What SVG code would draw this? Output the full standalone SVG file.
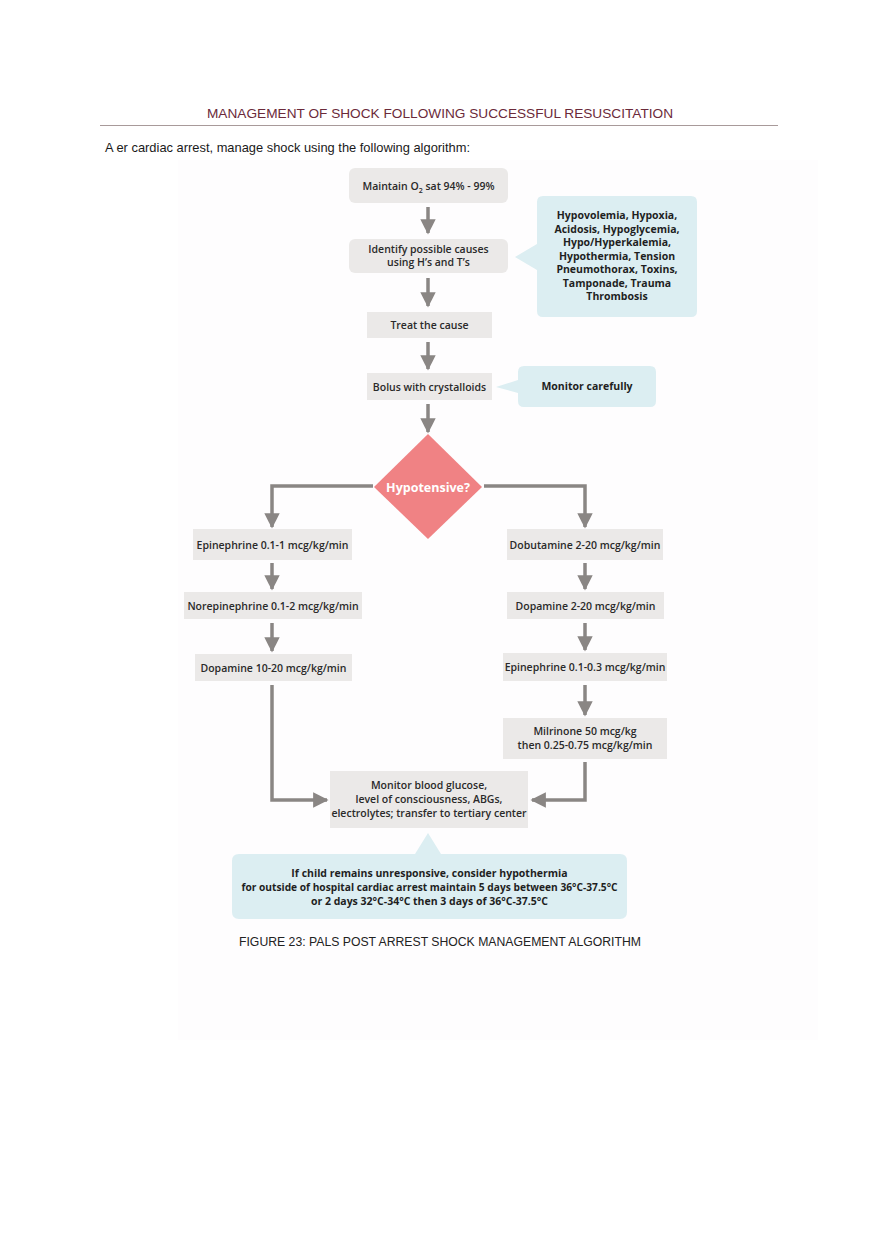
<svg xmlns="http://www.w3.org/2000/svg" width="880" height="1247" viewBox="0 0 880 1247">
<defs>
<style>
.box{fill:#ebe9e8}
.call{fill:#dcEef2}
.t{font-family:"Open Sans","DejaVu Sans",sans-serif;font-size:10.5px;font-weight:600;fill:#2a2a2a;text-anchor:middle}
.cb{font-family:"Open Sans","DejaVu Sans",sans-serif;font-size:10.5px;font-weight:700;fill:#1f1f1f;text-anchor:middle}
.ln{fill:none;stroke:#8a8684;stroke-width:3.5}
.doc{font-family:"Liberation Sans",Arial,sans-serif}
</style>
<marker id="ah" viewBox="0 0 10 10" refX="9" refY="5" markerWidth="4.4" markerHeight="4.4" orient="auto" markerUnits="strokeWidth">
<path d="M0,0 L10,5 L0,10 z" fill="#8a8684"/>
</marker>
</defs>
<rect width="880" height="1247" fill="#ffffff"/>
<rect x="178" y="160" width="640" height="880" fill="#fefdfe"/>
<g id="header">
<text class="doc" x="440" y="118" font-size="13" fill="#6b2a3a" text-anchor="middle" textLength="466" lengthAdjust="spacingAndGlyphs">MANAGEMENT OF SHOCK FOLLOWING SUCCESSFUL RESUSCITATION</text>
<line x1="100" y1="125.5" x2="778" y2="125.5" stroke="#a89a9a" stroke-width="1"/>
<text class="doc" x="105" y="152" font-size="13" fill="#1a1a1a" textLength="365" lengthAdjust="spacingAndGlyphs">A er cardiac arrest, manage shock using the following algorithm:</text>
</g>
<g id="connectors">
<line class="ln" x1="428" y1="207" x2="428" y2="233" marker-end="url(#ah)"/>
<line class="ln" x1="428" y1="278" x2="428" y2="306" marker-end="url(#ah)"/>
<line class="ln" x1="428" y1="342" x2="428" y2="369" marker-end="url(#ah)"/>
<line class="ln" x1="428" y1="404" x2="428" y2="432" marker-end="url(#ah)"/>
<polyline class="ln" points="373,486 272,486 272,527" marker-end="url(#ah)"/>
<polyline class="ln" points="484,486 585,486 585,527" marker-end="url(#ah)"/>
<line class="ln" x1="272" y1="563" x2="272" y2="589" marker-end="url(#ah)"/>
<line class="ln" x1="272" y1="623" x2="272" y2="651" marker-end="url(#ah)"/>
<line class="ln" x1="585" y1="563" x2="585" y2="589" marker-end="url(#ah)"/>
<line class="ln" x1="585" y1="623" x2="585" y2="650" marker-end="url(#ah)"/>
<line class="ln" x1="585" y1="685" x2="585" y2="715" marker-end="url(#ah)"/>
<polyline class="ln" points="272,685 272,800 327,800" marker-end="url(#ah)"/>
<polyline class="ln" points="585,762 585,800 532,800" marker-end="url(#ah)"/>
</g>
<g id="n-maintain">
<rect class="box" x="349" y="168" width="159" height="35" rx="6"/>
<text class="t" x="428.5" y="189.5">Maintain O<tspan font-size="7" dy="3">2</tspan><tspan dy="-3"> sat 94% - 99%</tspan></text>
</g>
<g id="n-identify">
<rect class="box" x="349" y="239" width="159" height="34" rx="6"/>
<text class="t" x="428.5" y="253">Identify possible causes</text>
<text class="t" x="428.5" y="266">using H’s and T’s</text>
</g>
<g id="c-causes">
<path class="call" d="M543,196 H691 Q697,196 697,202 V311 Q697,317 691,317 H543 Q537,317 537,311 V270 L515,257 L537,244 V202 Q537,196 543,196 Z"/>
<text class="cb" x="617" y="219">Hypovolemia, Hypoxia,</text>
<text class="cb" x="617" y="232.5">Acidosis, Hypoglycemia,</text>
<text class="cb" x="617" y="246">Hypo/Hyperkalemia,</text>
<text class="cb" x="617" y="259.5">Hypothermia, Tension</text>
<text class="cb" x="617" y="273">Pneumothorax, Toxins,</text>
<text class="cb" x="617" y="286.5">Tamponade, Trauma</text>
<text class="cb" x="617" y="300">Thrombosis</text>
</g>
<g id="n-treat">
<rect class="box" x="367" y="312" width="125" height="26"/>
<text class="t" x="429.5" y="329">Treat the cause</text>
</g>
<g id="n-bolus">
<rect class="box" x="367" y="373" width="125" height="27"/>
<text class="t" x="429.5" y="390.5">Bolus with crystalloids</text>
</g>
<g id="c-monitor">
<path class="call" d="M524,366 H650 Q656,366 656,372 V401 Q656,407 650,407 H524 Q518,407 518,401 V393 L496,387 L518,380 V372 Q518,366 524,366 Z"/>
<text class="cb" x="587" y="390">Monitor carefully</text>
</g>
<g id="n-hypotensive">
<polygon points="428,434 482,487 428,539 374,487" fill="#f08284"/>
<text x="428" y="491.5" font-family="'Open Sans','DejaVu Sans',sans-serif" font-size="12.5" font-weight="700" fill="#ffffff" text-anchor="middle">Hypotensive?</text>
</g>
<g id="n-epi1">
<rect class="box" x="193" y="529" width="159" height="31"/>
<text class="t" x="272.5" y="548.5">Epinephrine 0.1-1 mcg/kg/min</text>
</g>
<g id="n-dobutamine">
<rect class="box" x="507" y="529" width="156" height="31"/>
<text class="t" x="585" y="548.5">Dobutamine 2-20 mcg/kg/min</text>
</g>
<g id="n-norepi">
<rect class="box" x="184" y="592" width="178" height="27"/>
<text class="t" x="273" y="609.5">Norepinephrine 0.1-2 mcg/kg/min</text>
</g>
<g id="n-dopa2">
<rect class="box" x="507" y="592" width="157" height="27"/>
<text class="t" x="585.5" y="609.5">Dopamine 2-20 mcg/kg/min</text>
</g>
<g id="n-dopa10">
<rect class="box" x="195" y="654" width="157" height="27"/>
<text class="t" x="273.5" y="671.5">Dopamine 10-20 mcg/kg/min</text>
</g>
<g id="n-epi03">
<rect class="box" x="503" y="653" width="164" height="28"/>
<text class="t" x="585" y="671">Epinephrine 0.1-0.3 mcg/kg/min</text>
</g>
<g id="n-milrinone">
<rect class="box" x="503" y="718" width="164" height="41"/>
<text class="t" x="585" y="735">Milrinone 50 mcg/kg</text>
<text class="t" x="585" y="748.5">then 0.25-0.75 mcg/kg/min</text>
</g>
<g id="n-monitorblood">
<rect class="box" x="330" y="771" width="198" height="57"/>
<text class="t" x="429" y="789">Monitor blood glucose,</text>
<text class="t" x="429" y="803">level of consciousness, ABGs,</text>
<text class="t" x="429" y="817">electrolytes; transfer to tertiary center</text>
</g>
<g id="c-hypothermia">
<path class="call" d="M239,854 H415 L428,833 L441,854 H620 Q627,854 627,861 V912 Q627,919 620,919 H239 Q232,919 232,912 V861 Q232,854 239,854 Z"/>
<text class="cb" x="429.5" y="877">If child remains unresponsive, consider hypothermia</text>
<text class="cb" x="429.5" y="891" textLength="376" lengthAdjust="spacingAndGlyphs">for outside of hospital cardiac arrest maintain 5 days between 36°C-37.5°C</text>
<text class="cb" x="429.5" y="905">or 2 days 32°C-34°C then 3 days of 36°C-37.5°C</text>
</g>
<g id="caption">
<text class="doc" x="440" y="946" font-size="12" fill="#222222" text-anchor="middle" textLength="402" lengthAdjust="spacingAndGlyphs">FIGURE 23: PALS POST ARREST SHOCK MANAGEMENT ALGORITHM</text>
</g>
</svg>
